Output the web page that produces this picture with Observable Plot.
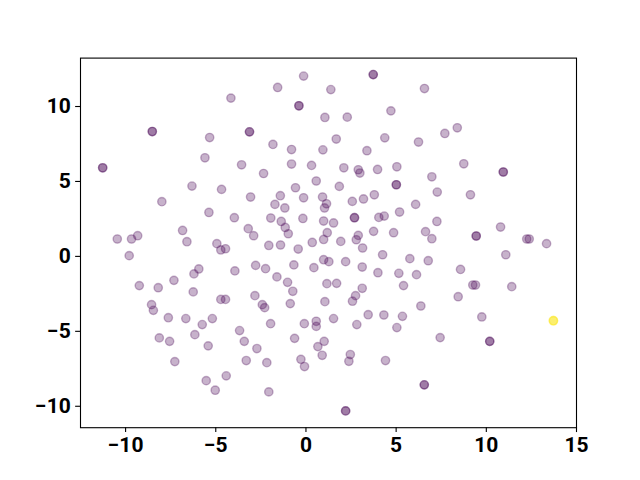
<!DOCTYPE html>
<html>
<head>
<meta charset="utf-8">
<script src="https://cdn.jsdelivr.net/npm/d3@7"></script>
<script src="https://cdn.jsdelivr.net/npm/@observablehq/plot@0.6"></script>
<style>
  html, body { margin: 0; padding: 0; background: #ffffff; }
  #chart { width: 640px; height: 480px; }
</style>
</head>
<body>
<div id="chart"></div>
<script>
// Point coordinates (dark points in the reference are two coincident points)
const xs = [
  3.73, 3.73, -0.13, -1.57, 1.38, 6.57, -4.16, -0.39, -0.39, 4.71, 1.05, 2.29,
  -8.52, -8.52, -3.13, -3.13, 8.39, 7.70, -5.34, 1.68, 4.37, 6.24, -1.83, -0.80,
  0.94, 3.38, -5.60, -3.57, -0.80, 0.31, 8.75, 2.10, 2.90, 2.99, 3.97, 5.04,
  -11.27, -11.27, 10.94, 10.94, -2.35, 6.98,
  -6.32, -4.68, -0.58, 0.57, 1.85, 5.01, 5.01, 7.28, 9.12, -3.07, -1.42, -0.13,
  0.92, 1.14, 1.03, 2.57, 3.19, 3.79, 6.08, -1.72, -1.17, -7.99, -5.38, -3.97,
  -1.95, -1.37, -1.15, -0.98, -0.17, 0.98, 1.53, 2.69, 2.69, 4.04, 4.34, 5.19,
  7.26, -3.20, -2.90, -6.84, -6.60, -10.46, -9.67, -9.33, -9.80, -4.94, -4.72, -4.46,
  1.18, 0.98, 1.93, 2.90, 2.79, 3.75, 4.86, 6.63, 6.98, 9.44, 9.44, 10.79,
  12.24, 12.38, 13.34, -2.06, -1.41, -0.43, 0.35, 3.14, 4.25, 5.76, 6.78, 11.08,
  0.98, 1.27, 2.20, -2.79, -2.24, -0.67, 0.44, 3.12, -5.94, -6.21, -3.94, 8.57,
  3.99, 5.15, 6.13, -1.61, -7.32, -1.02, -9.24, -8.19, -6.25, -0.73, 1.16, 1.70,
  3.12, 5.41, 9.25, 9.40, 11.41, -4.72, -4.46, -2.83, 2.75, 8.44,
  -8.56, -8.46, -2.42, -2.29, -0.87, 1.05, 2.58, 6.37, -7.63, -6.66, -5.75, -5.19,
  -3.68, -8.13, -7.56, -6.16, -5.42, -3.42, -7.27, -3.31, -5.53, -4.42, -5.03, -1.96,
  -0.09, 0.57, 0.57, 1.53, 2.82, 3.45, 4.32, 5.35, 5.04, -2.72, -0.63, 0.66,
  1.01, 0.90, -2.17, -0.28, -0.08, 2.46, 2.38, 4.41, -2.06, 2.20, 2.20, 9.75,
  7.44, 10.19, 10.19, 6.56, 6.56, 13.72, 13.72, 13.72
];
const ys = [
  12.13, 12.13, 12.03, 11.27, 11.13, 11.20, 10.56, 10.05, 10.05, 9.71, 9.27, 9.29,
  8.33, 8.33, 8.31, 8.31, 8.58, 8.20, 7.93, 7.83, 7.91, 7.63, 7.47, 7.13,
  7.11, 7.05, 6.58, 6.11, 6.16, 6.07, 6.18, 5.91, 5.78, 5.56, 5.80, 5.98,
  5.91, 5.91, 5.63, 5.63, 5.53, 5.31,
  4.69, 4.47, 4.58, 5.03, 4.67, 4.78, 4.78, 4.29, 4.11, 3.96, 4.05, 3.91,
  3.96, 3.51, 3.23, 3.67, 3.83, 4.11, 3.47, 3.47, 3.23, 3.65, 2.93, 2.58,
  2.56, 2.33, 1.93, 1.51, 2.53, 2.36, 2.23, 2.58, 2.58, 2.60, 2.69, 2.96,
  2.33, 1.85, 1.38, 1.73, 0.98, 1.16, 1.16, 1.38, 0.05, 0.85, 0.43, 0.51,
  1.58, 1.13, 1.00, 1.40, 1.11, 1.67, 1.58, 1.65, 1.18, 1.36, 1.36, 1.96,
  1.16, 1.16, 0.85, 0.73, 0.76, 0.49, 0.93, 0.56, 0.11, -0.15, -0.29, 0.11,
  -0.22, -0.35, -0.35, -0.60, -0.82, -0.57, -0.75, -0.71, -0.84, -1.17, -0.97, -0.87,
  -1.09, -1.13, -1.22, -1.37, -1.60, -1.73, -1.95, -2.09, -2.37, -2.33, -1.82, -1.80,
  -2.13, -1.95, -1.91, -1.91, -2.02, -2.87, -2.87, -2.62, -2.62, -2.69,
  -3.22, -3.60, -3.22, -3.42, -3.15, -3.02, -2.99, -3.31, -4.09, -4.15, -4.55, -4.15,
  -4.95, -5.44, -5.67, -5.22, -5.97, -5.67, -7.02, -6.95, -8.29, -7.97, -8.93, -4.49,
  -4.49, -4.33, -4.67, -4.15, -4.55, -3.89, -3.91, -4.00, -4.75, -6.15, -5.47, -6.02,
  -5.67, -6.60, -7.09, -6.87, -7.35, -6.55, -7.00, -6.95, -9.04, -10.31, -10.31, -4.04,
  -5.42, -5.67, -5.67, -8.57, -8.57, -4.29, -4.29, -4.29
];
// colour value per point: the last (coincident) points are the yellow ones
const nYellow = 3;
const cs = xs.map((_, i) => (i >= xs.length - nYellow ? 1 : 0));

const xTicks = [-10, -5, 0, 5, 10, 15];
const yTicks = [-10, -5, 0, 5, 10];

const points = xs.map((x, i) => ({x, y: ys[i], c: cs[i]}));

const chart = Plot.plot({
  width: 640,
  height: 480,
  marginLeft: 80,
  marginRight: 64,
  marginTop: 57.6,
  marginBottom: 52.8,
  style: {
    background: "#ffffff",
    fontFamily: "Roboto",
    fontSize: "21px",
    fontWeight: "bold",
    color: "#000000"
  },
  x: {domain: [-12.5, 15], label: null},
  y: {domain: [-11.43, 13.23], label: null},
  color: {type: "linear", scheme: "viridis", domain: [0, 1]},
  marks: [
    Plot.dot(points, {
      x: "x", y: "y", r: 4.17,
      fill: "c", stroke: "c",
      fillOpacity: 0.3, strokeOpacity: 0.3, strokeWidth: 1.39
    }),
    Plot.frame({stroke: "#000000", strokeWidth: 1.1}),
    Plot.axisX({ticks: xTicks, tickSize: 4.86, tickPadding: 4.86, strokeWidth: 1.1, label: null}),
    Plot.axisY({ticks: yTicks, tickSize: 4.86, tickPadding: 4.86, strokeWidth: 1.1, label: null})
  ]
});
document.getElementById("chart").appendChild(chart);
</script>
</body>
</html>
